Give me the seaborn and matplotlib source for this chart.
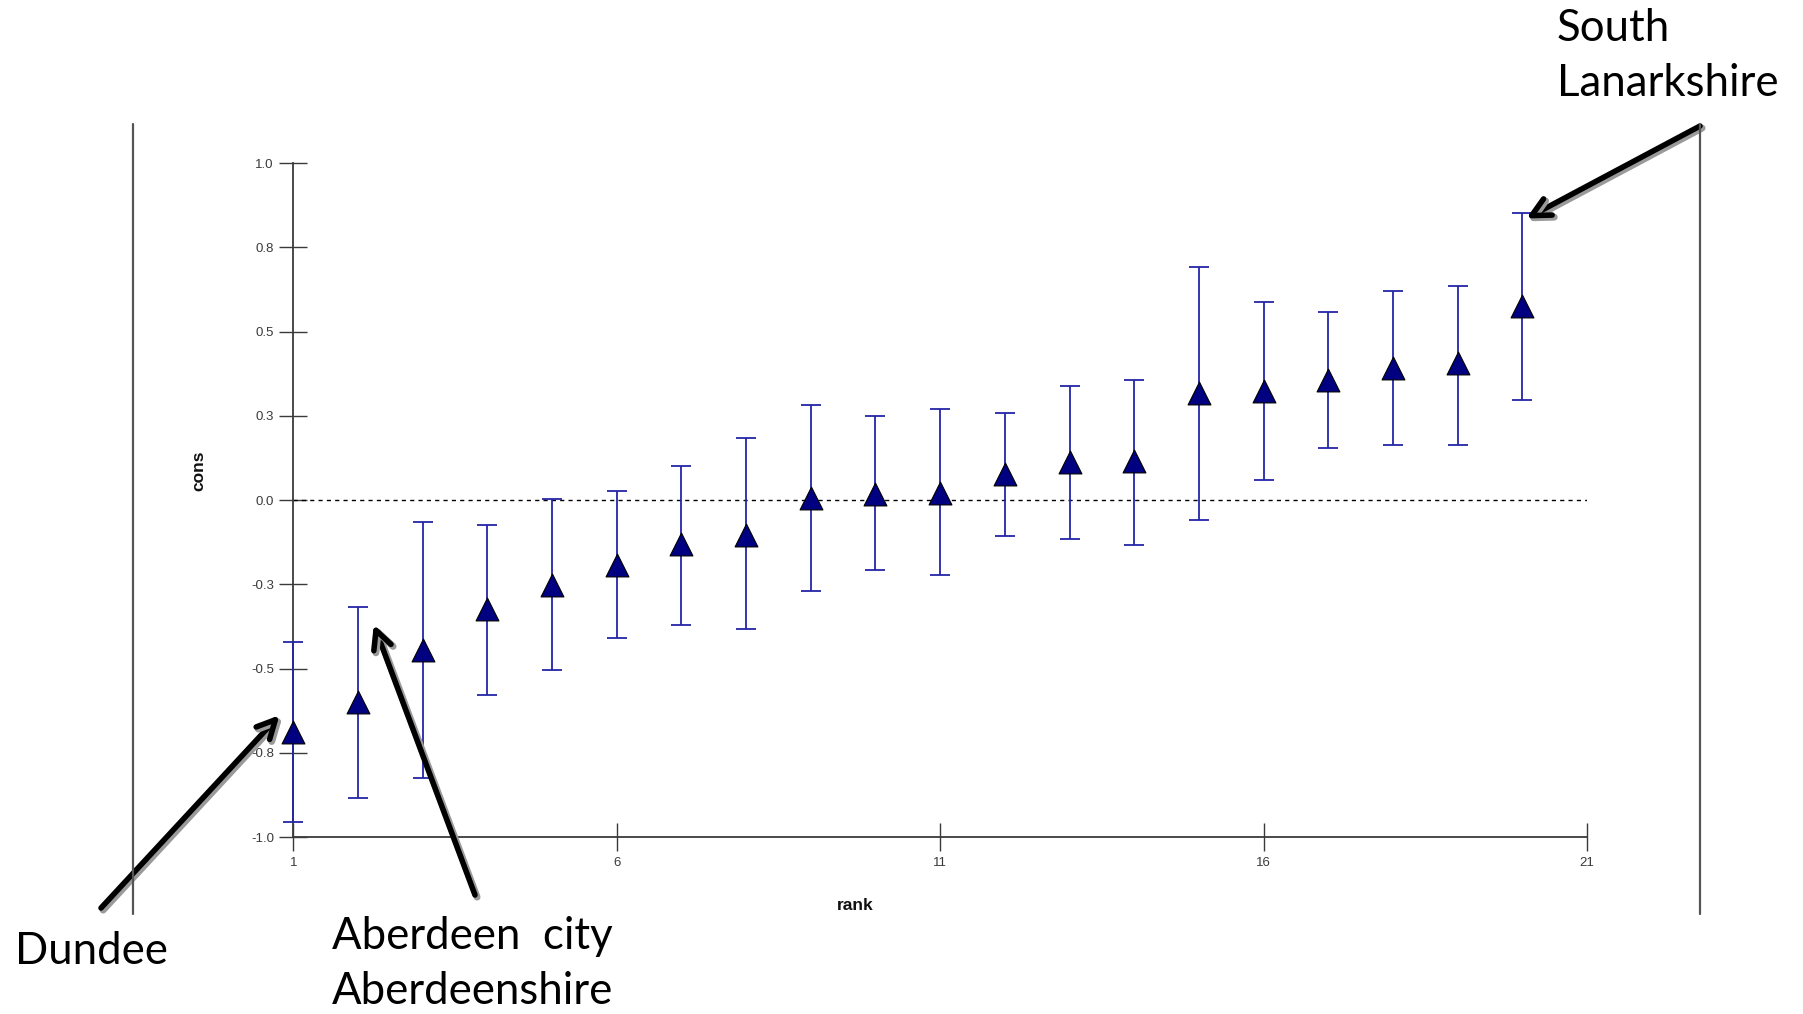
import numpy as np
import pandas as pd
import matplotlib
matplotlib.use("Agg")
import matplotlib.pyplot as plt
import matplotlib.patheffects as pe
from matplotlib.lines import Line2D
import seaborn as sns

# ---- data ----
rank = list(range(1, 21))
cons = [-0.689, -0.600, -0.444, -0.324, -0.253, -0.191, -0.130, -0.102, 0.007, 0.017,
        0.020, 0.078, 0.113, 0.116, 0.317, 0.324, 0.358, 0.392, 0.406, 0.577]
upper = [-0.420, -0.317, -0.065, -0.075, 0.003, 0.027, 0.102, 0.184, 0.283, 0.249,
         0.270, 0.259, 0.338, 0.358, 0.693, 0.587, 0.560, 0.621, 0.635, 0.853]
lower = [-0.956, -0.884, -0.823, -0.577, -0.505, -0.410, -0.369, -0.382, -0.270, -0.208,
         -0.222, -0.106, -0.116, -0.133, -0.058, 0.061, 0.154, 0.164, 0.164, 0.297]
x_ticks = [1, 6, 11, 16, 21]
y_ticks = [-1.0, -0.75, -0.5, -0.25, 0.0, 0.25, 0.5, 0.75, 1.0]
y_tick_labels = ["-1.0", "-0.8", "-0.5", "-0.3", "0.0", "0.3", "0.5", "0.8", "1.0"]

df = pd.DataFrame({"rank": rank, "cons": cons, "lower": lower, "upper": upper})

sns.set_theme(style="white")
narrow = ["Liberation Sans Narrow", "Liberation Sans", "DejaVu Sans"]
plt.rcParams["font.family"] = narrow

fig = plt.figure(figsize=(18.03, 10.14), dpi=100)
ax = fig.add_axes([0.1627, 0.1744, 0.7175, 0.6646])
ax.set_facecolor("white")

# error bars
yerr = np.vstack([df["cons"] - df["lower"], df["upper"] - df["cons"]])
ax.errorbar(df["rank"], df["cons"], yerr=yerr, fmt="none", ecolor="#2424a8",
            elinewidth=1.3, capsize=7.5, capthick=1.3, zorder=3, clip_on=False)

# points
sns.scatterplot(data=df, x="rank", y="cons", marker="^", s=270, color="#000080",
                edgecolor="black", linewidth=0.8, zorder=4, ax=ax, clip_on=False,
                legend=False)

# zero reference line
ax.axhline(0, xmin=0, xmax=1, color="black", lw=1.0, ls=(0, (3, 3)), zorder=2)

ax.set_xlim(1, 21)
ax.set_ylim(-1, 1)
ax.set_xticks(x_ticks)
ax.set_xticklabels([str(v) for v in x_ticks])
ax.set_yticks(y_ticks)
ax.set_yticklabels(y_tick_labels)

for s in ["top", "right"]:
    ax.spines[s].set_visible(False)
for s in ["left", "bottom"]:
    ax.spines[s].set_color("#3a3a3a")
    ax.spines[s].set_linewidth(1.3)

ax.tick_params(axis="both", direction="inout", length=20, width=1.0,
               colors="#3a3a3a", labelsize=9.5, pad=4, left=True, bottom=True)
ax.tick_params(axis="x", pad=4)

lab_font = ["Liberation Sans", "DejaVu Sans"]
ax.set_xlabel("rank", fontsize=12.5, family=lab_font, fontweight="bold",
              color="#111111")
ax.set_ylabel("cons", fontsize=12.5, family=lab_font, fontweight="bold",
              color="#111111")
ax.xaxis.set_label_coords(0.4347, -0.090)
ax.yaxis.set_label_coords(-0.067, 0.543)

# outer frame lines (left and right)
for xf in [133.4 / 1803, 1700 / 1803]:
    fig.add_artist(Line2D([xf, xf], [1 - 124 / 1014, 1 - 914 / 1014],
                          transform=fig.transFigure, color="#555555", lw=1.6))

# annotations
ann_font = ["Lato", "Open Sans", "DejaVu Sans"]
shadow = [pe.Stroke(offset=(1.5, -1.5), linewidth=5, foreground="#9a9a9a"), pe.Normal()]
arrowprops = dict(arrowstyle="->,head_length=1.1,head_width=0.55", color="black",
                  lw=4, shrinkA=0, shrinkB=0, path_effects=shadow)

ax.annotate("", xy=(0.787, -0.638), xycoords="data",
            xytext=(101 / 1803, 1 - 908 / 1014), textcoords="figure fraction",
            arrowprops=arrowprops, annotation_clip=False)
ax.annotate("", xy=(2.244, -0.369), xycoords="data",
            xytext=(475 / 1803, 1 - 895 / 1014), textcoords="figure fraction",
            arrowprops=arrowprops, annotation_clip=False)
ax.annotate("", xy=(20.06, 0.836), xycoords="data",
            xytext=(1700 / 1803, 1 - 126 / 1014), textcoords="figure fraction",
            arrowprops=arrowprops, annotation_clip=False)

fig.text(15 / 1803, 1 - 952 / 1014, "Dundee", fontsize=31.5, family=ann_font,
         ha="left", va="center", color="black")
fig.text(332 / 1803, 1 - 964 / 1014, "Aberdeen  city\nAberdeenshire", fontsize=31.5,
         family=ann_font, ha="left", va="center", color="black", linespacing=1.45)
fig.text(1557 / 1803, 1 - 56 / 1014, "South\nLanarkshire", fontsize=31.5,
         family=ann_font, ha="left", va="center", color="black", linespacing=1.45)

fig.savefig("out.png", dpi=100, facecolor="white")
